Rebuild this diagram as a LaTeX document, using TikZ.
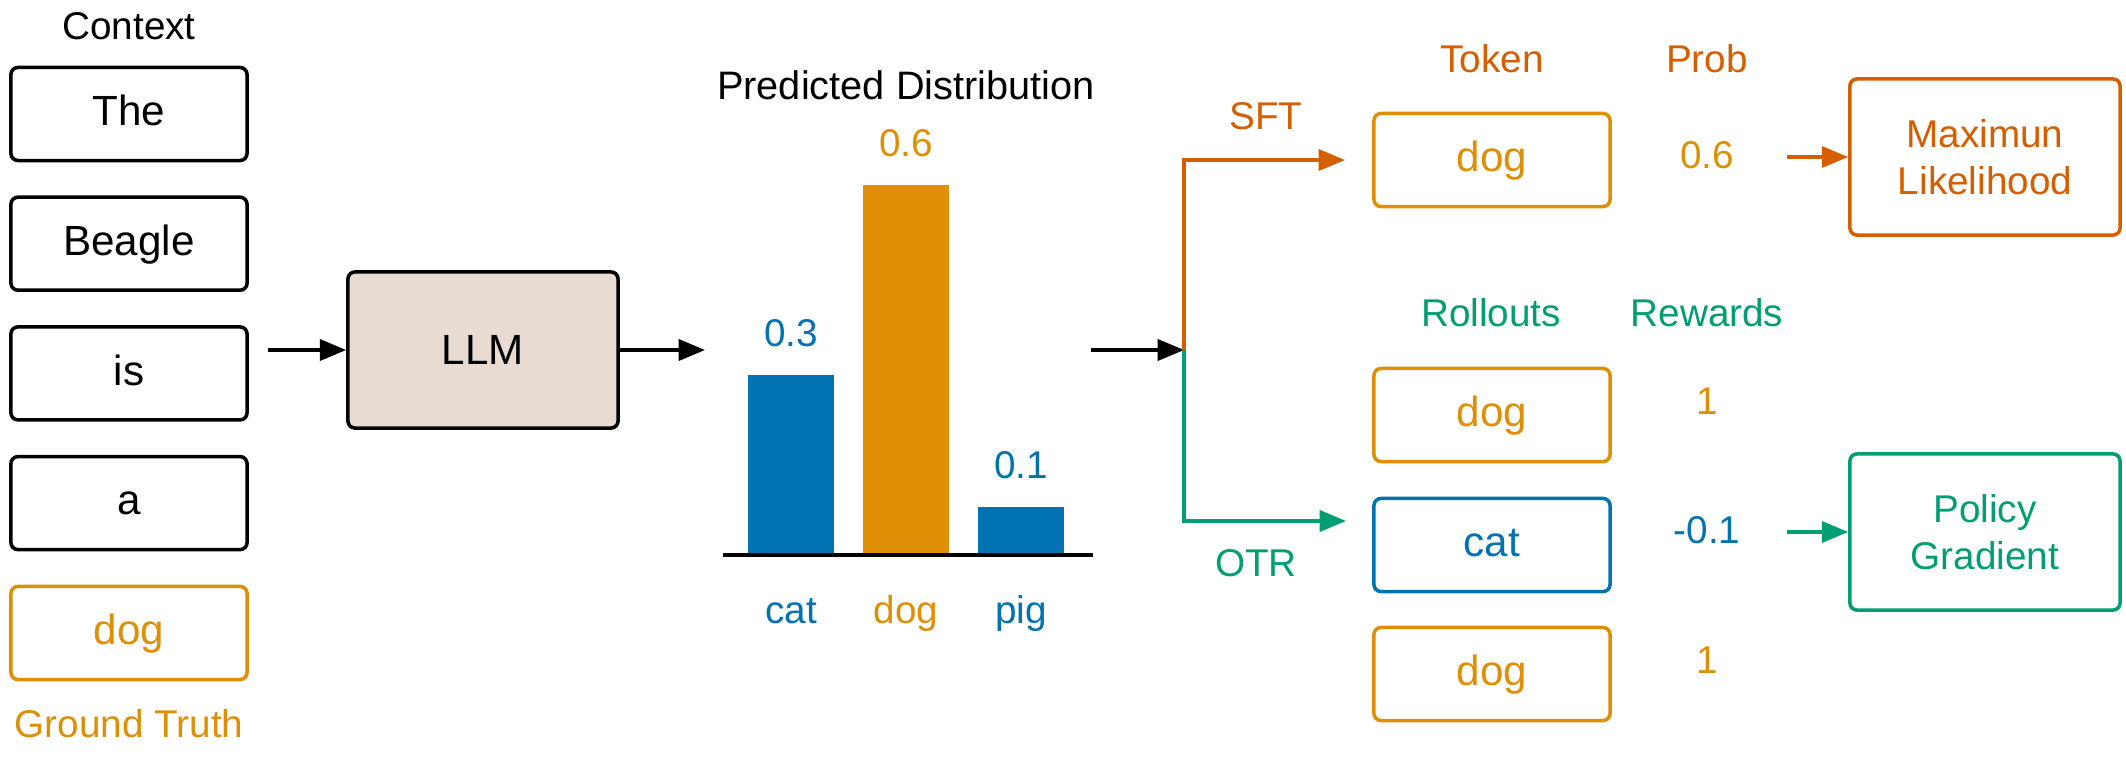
\documentclass[tikz,border=0pt]{standalone}
\usepackage{fontspec}
\setmainfont{Liberation Sans}
\usepackage{tikz}
\usetikzlibrary{calc, positioning, arrows.meta}
\definecolor{cbblue}{RGB}{1,115,178}
\definecolor{cborange}{RGB}{222,143,5}
\definecolor{cbgreen}{RGB}{2,158,115}
\definecolor{cbred}{RGB}{213,94,0}
\definecolor{llmfill}{RGB}{232,220,210}
\tikzstyle{tok}=[draw, rounded corners=2pt, line width=1pt, minimum width=2.36cm, minimum height=0.93cm, font=\fontsize{12}{14}\selectfont, text height=1.5ex, text depth=.25ex]
\tikzstyle{lbl}=[inner sep=0pt, font=\fontsize{11}{13}\selectfont, text height=1.5ex, text depth=.25ex]
\tikzstyle{big}=[draw, rounded corners=2pt, line width=1pt, minimum width=2.70cm, minimum height=1.56cm, align=center, font=\fontsize{11}{13.4}\selectfont]
\tikzstyle{arr}=[->, line width=1pt]
\tikzset{>={Triangle[length=7.5pt, width=6pt]}}

\begin{document}
\begin{tikzpicture}[x=0.01cm, y=-0.01cm]
\useasboundingbox (0,0) rectangle (2126,760);

% context column
\node[lbl] (ctx) at (129,28) {Context};
\foreach \w [count=\i] in {The, Beagle, is, a}{
\node[tok] (C\i) at (129, {114+(\i-1)*129.7}) {\w};
}
\node[tok, cborange] (gt) at (129,633) {dog};
\node[lbl, cborange] (gtlbl) at (129,726) {Ground Truth};

% model
\node[big, fill=llmfill, font=\fontsize{12}{14}\selectfont] (llm) at (483,350) {LLM};
\coordinate (in) at (268,350);
\coordinate (distin) at (705,350);
\draw[arr] (in) -- (llm);
\draw[arr] (llm) -- (distin);

% predicted distribution
\node[lbl, font=\fontsize{11.3}{13}\selectfont] (dist) at (906,88) {Predicted Distribution};
\foreach \x/\h/\c/\n/\p in {791/180/cbblue/cat/0.3, 906/370/cborange/dog/0.6, 1021/48/cbblue/pig/0.1}{
\fill[\c] ({\x-43},555) rectangle ({\x+43},{555-\h});
\node[lbl, \c] (v\n) at (\x,{555-\h-40}) {\p};
\node[lbl, \c] (t\n) at (\x,612) {\n};
}
\draw[line width=1.1pt] (723,555) -- (1093,555);

% split
\coordinate (distout) at (1091,350);
\coordinate (split) at (1184,350);
\coordinate (sftend) at (1345,160);
\coordinate (otrend) at (1346,521);
\draw[arr] (distout) -- (split);
\draw[arr, cbred] (split) |- (sftend);
\draw[arr, cbgreen] (split) |- (otrend);
\node[lbl, cbred] (sft) at (1266,118) {SFT};
\node[lbl, cbgreen] (otr) at (1256,565) {OTR};

% SFT branch
\node[lbl, cbred] (tokhd) at (1492,61) {Token};
\node[lbl, cbred] (probhd) at (1707,61) {Prob};
\node[tok, cborange] (tok) at (1492,160) {dog};
\node[lbl, cborange] (prob) at (1707,157) {0.6};
\node[big, cbred] (ml) at (1985,157) {Maximun\\Likelihood};
\draw[arr, cbred, shorten <=15pt] (prob.east) -- (ml.west);

% OTR branch
\node[lbl, cbgreen] (rollhd) at (1491,315) {Rollouts};
\node[lbl, cbgreen] (rewhd) at (1707,315) {Rewards};
\node[tok, cborange] (R1) at (1492,415) {dog};
\node[tok, cbblue] (R2) at (1492,545) {cat};
\node[tok, cborange] (R3) at (1492,674) {dog};
\node[lbl, cborange] (W1) at (1707,403) {1};
\node[lbl, cbblue] (W2) at (1707,532) {-0.1};
\node[lbl, cborange] (W3) at (1707,662) {1};
\node[big, cbgreen] (pg) at (1985,532) {Policy\\Gradient};
\draw[arr, cbgreen, shorten <=13pt] (W2.east) -- (pg.west);
\end{tikzpicture}
\end{document}
